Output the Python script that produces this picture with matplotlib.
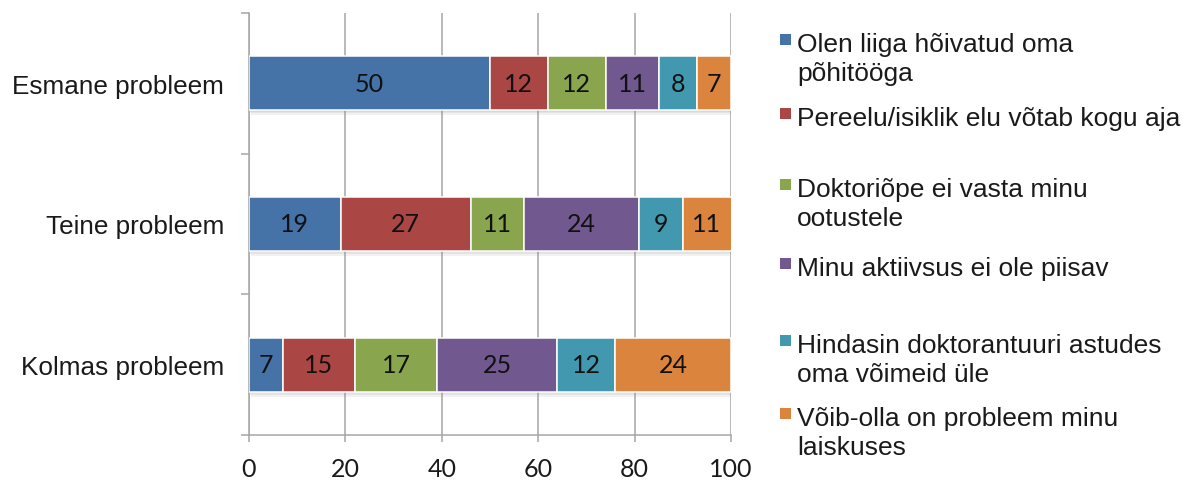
import matplotlib
matplotlib.use("Agg")
import matplotlib.pyplot as plt
import matplotlib.patheffects as pe
from matplotlib.patches import Rectangle
import numpy as np

categories = ["Esmane probleem", "Teine probleem", "Kolmas probleem"]
series_names = [
    "Olen liiga hõivatud oma\npõhitööga",
    "Pereelu/isiklik elu võtab kogu aja",
    "Doktoriõpe ei vasta minu\nootustele",
    "Minu aktiivsus ei ole piisav",
    "Hindasin doktorantuuri astudes\noma võimeid üle",
    "Võib-olla on probleem minu\nlaiskuses",
]
values = [
    [50, 19, 7],
    [12, 27, 15],
    [12, 11, 17],
    [11, 24, 25],
    [8, 9, 12],
    [7, 11, 24],
]
colors = ["#4572A7", "#AA4643", "#89A54E", "#71588F", "#4198AF", "#DB843D"]
xticks = [0, 20, 40, 60, 80, 100]

W, H = 1194, 481
fig = plt.figure(figsize=(W / 100, H / 100), dpi=100)
ax = fig.add_axes([249 / W, 1 - 436 / H, 482 / W, 422 / H])

grey = "#A6A6A6"
ypos = np.arange(len(categories))
left = np.zeros(len(categories))
shadow = [pe.SimplePatchShadow(offset=(1.5, -3.5), shadow_rgbFace="#909090", alpha=0.12),
          pe.SimplePatchShadow(offset=(1.0, -2.2), shadow_rgbFace="#909090", alpha=0.14),
          pe.SimplePatchShadow(offset=(0.5, -1.0), shadow_rgbFace="#909090", alpha=0.14),
          pe.Normal()]
for vals, col in zip(values, colors):
    bars = ax.barh(ypos, vals, left=left, height=0.384, color=col,
                   edgecolor="white", linewidth=1.1, zorder=3)
    for b in bars:
        b.set_path_effects(shadow)
    ax.bar_label(bars, labels=[str(v) for v in vals], label_type="center",
                 fontsize=18, family="Lato", color="#111111", zorder=4)
    left += np.array(vals)

ax.set_xlim(0, 100)
ax.set_ylim(2.5, -0.5)
ax.set_xticks(xticks)
ax.set_xticklabels([str(t) for t in xticks], fontsize=18, family="Lato", color="#1a1a1a")
ax.set_yticks(ypos)
ax.set_yticklabels(categories, fontsize=18.8, family="Liberation Sans", color="#1a1a1a")
ax.set_yticks([-0.5, 0.5, 1.5, 2.5], minor=True)
ax.tick_params(axis="y", which="major", length=0, pad=18)
ax.tick_params(axis="y", which="minor", length=5.8, width=1.1, color=grey, direction="out")
ax.tick_params(axis="x", which="major", length=5, width=1.1, color=grey, direction="out", pad=11)

ax.grid(axis="x", color=grey, linewidth=1.1, zorder=0)
ax.set_axisbelow(True)
for s in ["top", "right"]:
    ax.spines[s].set_visible(False)
for s in ["left", "bottom"]:
    ax.spines[s].set_color(grey)
    ax.spines[s].set_linewidth(1.1)

# legend
baselines = [52, 126, 197, 276, 353, 426]
line_step = 29.5
for name, col, bl in zip(series_names, colors, baselines):
    fig.add_artist(Rectangle((780 / W, 1 - (bl - 6) / H), 11 / W, 11 / H,
                             transform=fig.transFigure, facecolor=col, edgecolor="none"))
    for i, line in enumerate(name.split("\n")):
        fig.text(797 / W, 1 - (bl + i * line_step) / H, line, fontsize=19,
                 family="Liberation Sans", color="#1a1a1a", va="baseline", ha="left")

fig.savefig("out.png", dpi=100)
